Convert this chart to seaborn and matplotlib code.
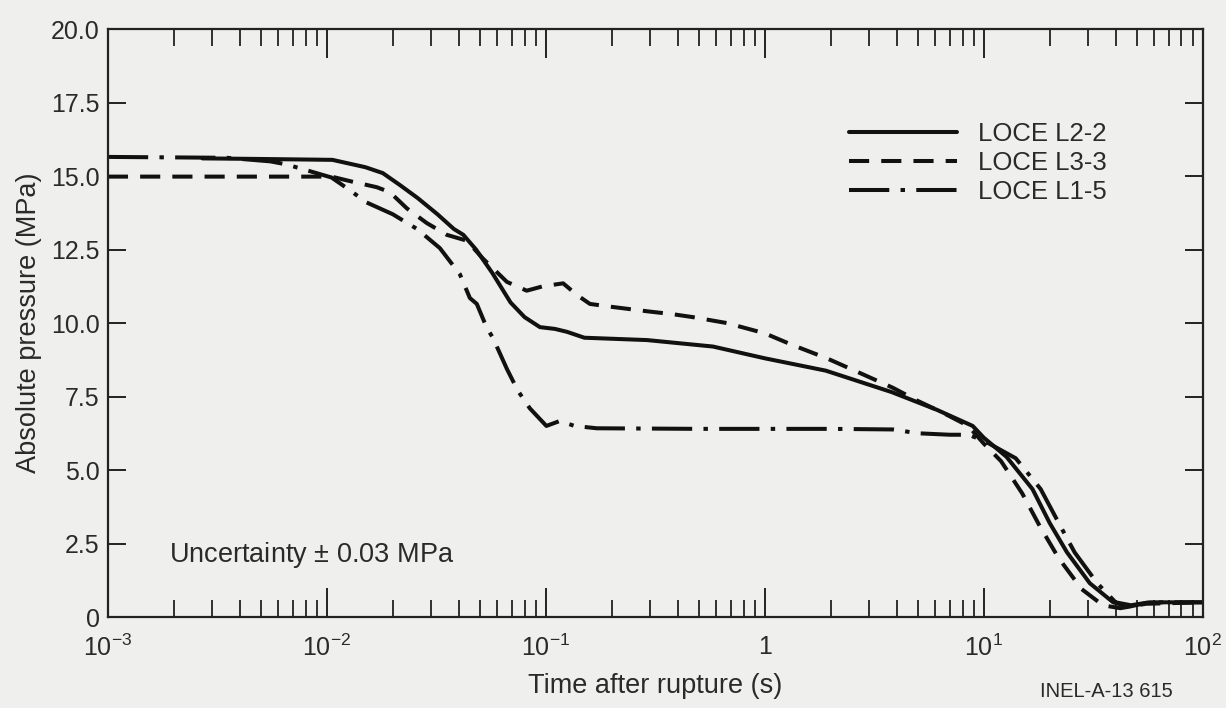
import numpy as np
import pandas as pd
import matplotlib
matplotlib.use("Agg")
import matplotlib.pyplot as plt
from matplotlib.ticker import FixedLocator, LogLocator, NullFormatter
import seaborn as sns

# ---- data ----
t_l22 = [0.0027, 0.005, 0.0106, 0.015, 0.018, 0.0215, 0.026, 0.032, 0.038, 0.042,
         0.048, 0.057, 0.069, 0.08, 0.094, 0.11, 0.125, 0.15, 0.29, 0.58, 1.0,
         1.9, 3.8, 6.1, 8.9, 10.0, 12.7, 16.7, 20.0, 24.0, 30.5, 39.0, 46.0, 57.0, 100.0]
p_l22 = [15.6, 15.58, 15.55, 15.3, 15.1, 14.7, 14.25, 13.7, 13.2, 13.0,
         12.5, 11.7, 10.7, 10.2, 9.86, 9.8, 9.7, 9.5, 9.42, 9.2, 8.8,
         8.38, 7.65, 7.05, 6.5, 6.1, 5.45, 4.35, 3.2, 2.2, 1.15, 0.5, 0.35, 0.5, 0.5]

t_l33 = [0.001, 0.0105, 0.0132, 0.0169, 0.0194, 0.0232, 0.0286, 0.0353, 0.0436, 0.0515,
         0.0664, 0.0818, 0.097, 0.12, 0.139, 0.159, 0.2, 0.29, 0.38, 0.47, 0.67,
         1.0, 1.34, 1.92, 2.72, 3.84, 5.0, 6.5, 8.5, 10.0, 12.0, 15.0, 18.0, 22.0,
         28.0, 35.0, 42.0, 55.0, 100.0]
p_l33 = [14.98, 14.98, 14.8, 14.62, 14.45, 13.9, 13.4, 13.0, 12.8, 12.2,
         11.4, 11.1, 11.25, 11.35, 10.95, 10.65, 10.55, 10.4, 10.3, 10.2, 10.0,
         9.65, 9.25, 8.8, 8.3, 7.8, 7.35, 6.95, 6.5, 5.9, 5.3, 4.2, 3.1, 2.0,
         0.95, 0.4, 0.3, 0.45, 0.5]

t_l15 = [0.001, 0.0035, 0.0055, 0.0065, 0.0085, 0.0105, 0.0125, 0.0152, 0.02, 0.0258,
         0.0328, 0.0405, 0.045, 0.0484, 0.0538, 0.0573, 0.0664, 0.0745, 0.0845, 0.1006,
         0.116, 0.135, 0.171, 0.5, 1.0, 2.0, 3.84, 5.0, 7.0, 8.5, 10.0, 14.0, 18.2,
         22.0, 26.0, 33.0, 40.0, 47.0, 57.0, 100.0]
p_l15 = [15.65, 15.62, 15.5, 15.4, 15.15, 14.95, 14.56, 14.1, 13.7, 13.2,
         12.55, 11.66, 10.85, 10.65, 9.83, 9.5, 8.44, 7.7, 7.1, 6.5,
         6.67, 6.5, 6.42, 6.4, 6.4, 6.4, 6.38, 6.25, 6.2, 6.2, 6.0, 5.4, 4.35,
         3.2, 2.2, 1.15, 0.5, 0.4, 0.5, 0.5]

series_names = ["LOCE L2-2", "LOCE L3-3", "LOCE L1-5"]
x_ticks = [1e-3, 1e-2, 1e-1, 1, 1e1, 1e2]
x_tick_labels = ["$10^{-3}$", "$10^{-2}$", "$10^{-1}$", "1", "$10^{1}$", "$10^{2}$"]
y_ticks = [0, 2.5, 5.0, 7.5, 10.0, 12.5, 15.0, 17.5, 20.0]
y_tick_labels = ["0", "2.5", "5.0", "7.5", "10.0", "12.5", "15.0", "17.5", "20.0"]

df = pd.concat([
    pd.DataFrame({"t": t_l22, "p": p_l22, "test": series_names[0]}),
    pd.DataFrame({"t": t_l33, "p": p_l33, "test": series_names[1]}),
    pd.DataFrame({"t": t_l15, "p": p_l15, "test": series_names[2]}),
], ignore_index=True)

# ---- style ----
sns.set_theme(style="ticks")
bg = "#efefed"
ink = "#2a2a2a"
plt.rcParams["font.family"] = ["Liberation Sans", "DejaVu Sans"]
plt.rcParams["mathtext.fontset"] = "custom"
plt.rcParams["mathtext.rm"] = "Liberation Sans"
plt.rcParams["mathtext.it"] = "Liberation Sans"
plt.rcParams["mathtext.default"] = "regular"

fig = plt.figure(figsize=(12.26, 7.08), dpi=100, facecolor=bg)
ax = fig.add_axes([0.088, 0.1285, 0.893, 0.8305])
ax.set_facecolor(bg)

sns.lineplot(data=df, x="t", y="p", hue="test", style="test",
             hue_order=series_names, style_order=series_names,
             palette={n: "#111111" for n in series_names},
             dashes={series_names[0]: "", series_names[1]: (5.0, 3.0),
                     series_names[2]: (10, 2.8, 1.1, 2.8)},
             estimator=None, sort=False, linewidth=2.9, ax=ax)

ax.set_xscale("log")
ax.set_xlim(1e-3, 1e2)
ax.set_ylim(0, 20)
ax.xaxis.set_major_locator(FixedLocator(x_ticks))
ax.set_xticklabels(x_tick_labels)
ax.xaxis.set_minor_locator(LogLocator(base=10, subs=np.arange(2, 10)))
ax.xaxis.set_minor_formatter(NullFormatter())
ax.set_yticks(y_ticks)
ax.set_yticklabels(y_tick_labels)

ax.tick_params(axis="both", which="both", direction="in", top=True, right=True,
               colors="#222222", labelcolor=ink, labelsize=18)
ax.tick_params(axis="x", which="major", length=21, width=1.4, pad=13)
ax.tick_params(axis="x", which="minor", length=12, width=1.3)
ax.tick_params(axis="y", which="major", length=13, width=1.4, pad=6)
for s in ax.spines.values():
    s.set_linewidth(1.6)
    s.set_color("#222222")

ax.set_xlabel("Time after rupture (s)", fontsize=19.5, color=ink, labelpad=8)
ax.set_ylabel("Absolute pressure (MPa)", fontsize=19.5, color=ink, labelpad=6)

ax.text(0.0019, 2.1, "Uncertainty $\\pm$ 0.03 MPa", fontsize=19.5, color=ink,
        va="center", ha="left")

leg = ax.legend(loc="upper left", bbox_to_anchor=(0.656, 0.881), frameon=False,
                fontsize=18.5, handlelength=4.2, labelspacing=0.2, handletextpad=0.8)
for txt in leg.get_texts():
    txt.set_color(ink)

fig.text(0.848, 0.016, "INEL-A-13 615", fontsize=14.5, color=ink, ha="left")

fig.savefig("out.png", dpi=100, facecolor=bg)
